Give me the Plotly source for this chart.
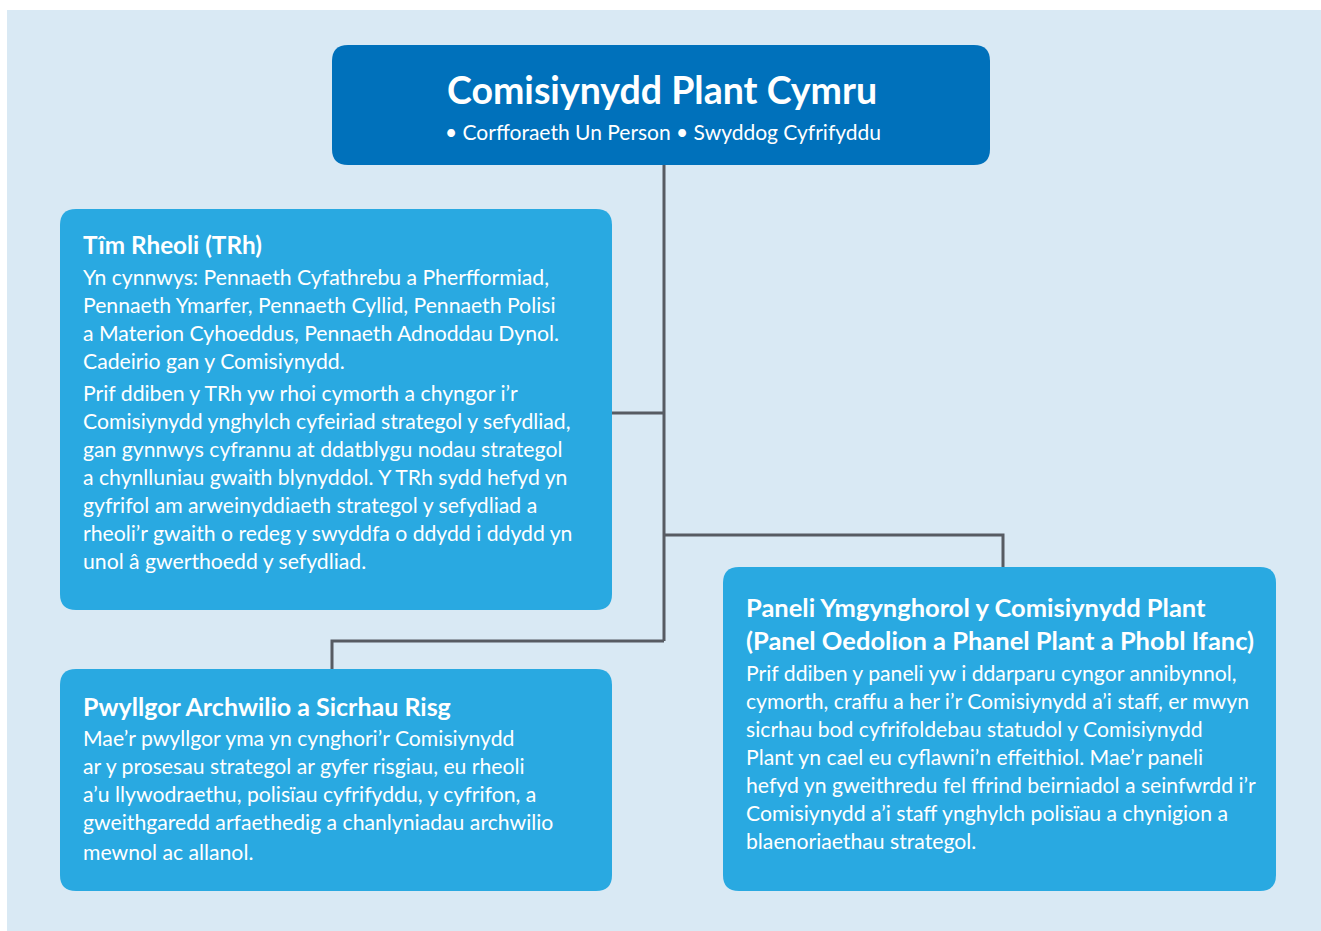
import plotly.graph_objects as go

# ---- content ----
top_title = "Comisiynydd Plant Cymru"
top_subtitle = "• Corfforaeth Un Person • Swyddog Cyfrifyddu"

trh_title = ["Tîm Rheoli (TRh)"]
trh_para1 = [
    "Yn cynnwys: Pennaeth Cyfathrebu a Pherfformiad,",
    "Pennaeth Ymarfer, Pennaeth Cyllid, Pennaeth Polisi",
    "a Materion Cyhoeddus, Pennaeth Adnoddau Dynol.",
    "Cadeirio gan y Comisiynydd.",
]
trh_para2 = [
    "Prif ddiben y TRh yw rhoi cymorth a chyngor i’r",
    "Comisiynydd ynghylch cyfeiriad strategol y sefydliad,",
    "gan gynnwys cyfrannu at ddatblygu nodau strategol",
    "a chynlluniau gwaith blynyddol. Y TRh sydd hefyd yn",
    "gyfrifol am arweinyddiaeth strategol y sefydliad a",
    "rheoli’r gwaith o redeg y swyddfa o ddydd i ddydd yn",
    "unol â gwerthoedd y sefydliad.",
]
pw_title = ["Pwyllgor Archwilio a Sicrhau Risg"]
pw_body = [
    "Mae’r pwyllgor yma yn cynghori’r Comisiynydd",
    "ar y prosesau strategol ar gyfer risgiau, eu rheoli",
    "a’u llywodraethu, polisïau cyfrifyddu, y cyfrifon, a",
    "gweithgaredd arfaethedig a chanlyniadau archwilio",
    "mewnol ac allanol.",
]
pan_title = [
    "Paneli Ymgynghorol y Comisiynydd Plant",
    "(Panel Oedolion a Phanel Plant a Phobl Ifanc)",
]
pan_body = [
    "Prif ddiben y paneli yw i ddarparu cyngor annibynnol,",
    "cymorth, craffu a her i’r Comisiynydd a’i staff, er mwyn",
    "sicrhau bod cyfrifoldebau statudol y Comisiynydd",
    "Plant yn cael eu cyflawni’n effeithiol. Mae’r paneli",
    "hefyd yn gweithredu fel ffrind beirniadol a seinfwrdd i’r",
    "Comisiynydd a’i staff ynghylch polisïau a chynigion a",
    "blaenoriaethau strategol.",
]

# ---- layout (pixel geometry) ----
W, H = 1321, 931
BG = "#d9e9f4"
DARK = "#0071bb"
LIGHT = "#29a9e1"
LINE = "#575b62"
FONT = "Lato"

boxes = [  # x0, y0, x1, y1, color
    (332, 45, 990, 165, DARK),
    (60, 209, 612, 610, LIGHT),
    (60, 669, 612, 891, LIGHT),
    (723, 567, 1276, 891, LIGHT),
]

connectors = [
    ([664, 664], [165, 641]),
    ([612, 664], [413, 413]),
    ([664, 1003, 1003], [535, 535, 567]),
    ([664, 332, 332], [641, 641, 669]),
]


def rrect(x0, y0, x1, y1, r):
    return (f"M {x0+r},{y0} L {x1-r},{y0} Q {x1},{y0} {x1},{y0+r} "
            f"L {x1},{y1-r} Q {x1},{y1} {x1-r},{y1} L {x0+r},{y1} "
            f"Q {x0},{y1} {x0},{y1-r} L {x0},{y0+r} Q {x0},{y0} {x0+r},{y0} Z")


fig = go.Figure()

shapes = [dict(type="rect", x0=7, y0=10, x1=W, y1=H, fillcolor=BG,
               line=dict(width=0), layer="below")]

for xs, ys in connectors:
    fig.add_trace(go.Scatter(x=xs, y=ys, mode="lines",
                             line=dict(color=LINE, width=3),
                             hoverinfo="skip", showlegend=False))

for x0, y0, x1, y1, c in boxes:
    shapes.append(dict(type="path", path=rrect(x0, y0, x1, y1, 16),
                       fillcolor=c, line=dict(width=0), layer="above"))

annotations = []


def add_text(txt, x, y, size, bold=False, anchor="left"):
    annotations.append(dict(
        x=x, y=y, xref="x", yref="y", text=f"<b>{txt}</b>" if bold else txt,
        showarrow=False, xanchor=anchor, yanchor="middle",
        font=dict(family=FONT, size=size, color="white")))


add_text(top_title, 662, 89, 37.5, bold=True, anchor="center")
add_text(top_subtitle, 663, 131, 21, anchor="center")


def add_block(x, y_start, titles, paras, title_size=25, title_step=33,
              step=28, para_gap=4, title_gap=33, last_extra=0):
    y = y_start
    for i, t in enumerate(titles):
        add_text(t, x, y, title_size, bold=True)
        if i < len(titles) - 1:
            y += title_step
    y += title_gap
    for p in paras:
        for li, line in enumerate(p):
            if li == len(p) - 1:
                y += last_extra
            add_text(line, x, y, 21.2)
            y += step
        y += para_gap


add_block(81, 244, trh_title, [trh_para1, trh_para2], title_size=24.3)
add_block(81, 706, pw_title, [pw_body], title_gap=32, last_extra=2)
add_block(744, 607, pan_title, [pan_body], title_size=25.5)

fig.update_layout(
    width=W, height=H, margin=dict(l=0, r=0, t=0, b=0),
    paper_bgcolor="white", plot_bgcolor="white",
    xaxis=dict(range=[0, W], visible=False, fixedrange=True),
    yaxis=dict(range=[H, 0], visible=False, fixedrange=True),
    shapes=shapes, annotations=annotations,
)

fig.write_html(
    "out.html",
    config={"displayModeBar": False, "staticPlot": True},
    post_script="document.body.style.margin='0';document.body.style.overflow='hidden';",
)
